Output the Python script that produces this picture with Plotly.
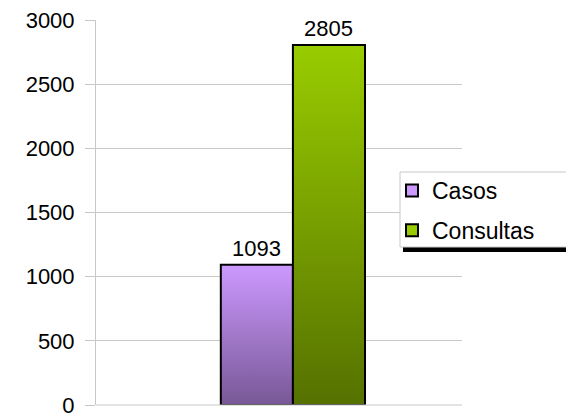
import plotly.graph_objects as go

series = ["Casos", "Consultas"]
values = [1093, 2805]
top_colors = ["#CC99FF", "#99CC00"]
bottom_colors = ["#785896", "#557100"]
y_ticks = [0, 500, 1000, 1500, 2000, 2500, 3000]

# plot area in pixels (for paper-coordinate helpers)
L, R, T, B = 96, 462, 20, 405
def px_x(p): return (p - L) / (R - L)
def px_y(p): return (B - p) / (B - T)

bar_w = 0.197
fig = go.Figure()
for i, (name, v) in enumerate(zip(series, values)):
    x0 = (i - len(series) / 2) * bar_w
    x1 = x0 + bar_w
    fig.add_trace(go.Scatter(
        x=[x0, x1, x1, x0, x0], y=[0, 0, v, v, 0],
        mode="lines", fill="toself", name=name, showlegend=False,
        line=dict(color="black", width=2),
        fillgradient=dict(type="vertical",
                          colorscale=[[0, bottom_colors[i]], [1, top_colors[i]]]),
        hoverinfo="skip",
    ))
    fig.add_annotation(
        x=(x0 + x1) / 2, y=v, text=str(v), showarrow=False,
        xanchor="center", yanchor="bottom", yshift=2,
        font=dict(size=22, color="black"),
    )
    fig.add_trace(go.Scatter(
        x=[None], y=[None], mode="markers", name=name, legendgroup=name,
        marker=dict(symbol="square", size=13, color=top_colors[i],
                    line=dict(color="black", width=1.5)),
    ))

fig.update_layout(
    width=566, height=413,
    margin=dict(l=L, r=566 - R, t=T, b=413 - B, autoexpand=False),
    paper_bgcolor="white", plot_bgcolor="white",
    font=dict(family="Liberation Sans, Arial, sans-serif", color="black", size=22),
    xaxis=dict(range=[-0.538, 0.462], showgrid=False, zeroline=False,
               showticklabels=False, showline=False, fixedrange=True),
    yaxis=dict(range=[0, 3000], tickvals=y_ticks, showgrid=True,
               gridcolor="#C8C8C8", gridwidth=1, zeroline=False,
               showline=True, linecolor="#C8C8C8", linewidth=1,
               ticks="outside", ticklen=10, tickcolor="#C8C8C8",
               tickfont=dict(size=22), automargin=False,
               ticklabeloverflow="allow", ticklabelstandoff=6),
    legend=dict(x=px_x(392), y=px_y(169), xanchor="left", yanchor="top",
                borderwidth=0, bgcolor="rgba(0,0,0,0)",
                font=dict(size=23), itemsizing="constant", tracegroupgap=7,
                itemwidth=30),
    showlegend=True,
    shapes=[
        dict(type="line", xref="paper", yref="paper", x0=0, x1=1, y0=0, y1=0,
             line=dict(color="#C8C8C8", width=1)),
        dict(type="rect", xref="paper", yref="paper",
             x0=px_x(403), x1=px_x(570), y0=px_y(252), y1=px_y(247),
             fillcolor="black", line=dict(width=0), layer="above"),
        dict(type="rect", xref="paper", yref="paper",
             x0=px_x(400), x1=px_x(570), y0=px_y(247), y1=px_y(172),
             fillcolor="white", line=dict(color="#C8C8C8", width=1),
             layer="above"),
    ],
)
fig.write_html("out.html",
               config={"displayModeBar": False, "staticPlot": True},
               post_script="document.body.style.margin='0';"
                           "document.body.style.overflow='hidden';")
